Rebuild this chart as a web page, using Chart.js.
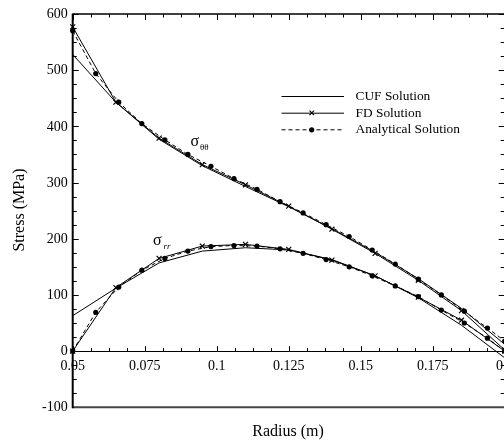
<!DOCTYPE html>
<html>
<head>
<meta charset="utf-8">
<script src="https://cdn.jsdelivr.net/npm/chart.js@4.4.1/dist/chart.umd.min.js"></script>
<style>
  html, body { margin: 0; padding: 0; background: #fff; overflow: hidden; width: 504px; height: 443px; }
  canvas { position: absolute; left: 0; top: 0; }
</style>
</head>
<body>
<canvas id="stressChart" width="540" height="443"></canvas>
<script>
// Nodos de CUF y FD (radio en m)
const radiusNodes = [0.05, 0.065, 0.08, 0.095, 0.11, 0.125, 0.14, 0.155, 0.17, 0.185, 0.2];
const cufTheta  = [528, 443, 377, 330, 293, 257, 218, 176, 129, 76, 12];
const cufRadial = [63, 112, 157, 178, 184, 180, 163, 134, 95, 46, -12];
const fdTheta   = [577, 443, 379, 332, 296, 258, 217, 174, 126, 72, 2];
const fdRadial  = [0, 113, 165, 187, 190, 181, 162, 134, 96, 55, 0];

// Solucion analitica
const radiusAnalytical = [0.05, 0.058, 0.066, 0.074, 0.082, 0.09, 0.098, 0.106, 0.114, 0.122,
                          0.13, 0.138, 0.146, 0.154, 0.162, 0.17, 0.178, 0.186, 0.194, 0.2];
const anaTheta  = [570, 494, 443, 405, 376, 350, 329, 307, 288, 266,
                   246, 225, 204, 180, 155, 128, 100, 71, 41, 18];
const anaRadial = [0, 69, 114, 144, 165, 178, 186, 188, 187, 182,
                   174, 163, 150, 134, 116, 97, 73, 50, 23, 0];

// Ejes
const xTicks = [0.05, 0.075, 0.1, 0.125, 0.15, 0.175, 0.2];
const xTickLabels = ["0.05", "0.075", "0.1", "0.125", "0.15", "0.175", "0.2"];
const yTicks = [600, 500, 400, 300, 200, 100, 0, -100];
const yTickLabels = ["600", "500", "400", "300", "200", "100", "0", "-100"];
const legendLabels = ["CUF Solution", "FD Solution", "Analytical Solution"];

const toPoints = (xs, ys) => xs.map((x, i) => ({ x: x, y: ys[i] }));

const serif = "'Liberation Serif', 'Times New Roman', serif";

const cufStyle = { borderColor: "#000", borderWidth: 1, pointRadius: 0, tension: 0, clip: false };
const fdStyle = {
    borderColor: "#000", borderWidth: 1, tension: 0, clip: false,
    pointStyle: "crossRot", pointRadius: 3.5, pointBorderWidth: 1.2, pointBorderColor: "#000"
};
const anaStyle = {
    borderColor: "#000", borderWidth: 1, borderDash: [4, 3], tension: 0, clip: false,
    pointStyle: "circle", pointRadius: 2.6, pointBorderWidth: 0,
    pointBackgroundColor: "#000"
};

// Marcos, ticks, textos y leyenda
const framePlugin = {
    id: "frame",
    afterDraw(chart) {
        const ctx = chart.ctx;
        const xs = chart.scales.x;
        const ys = chart.scales.y;
        const area = chart.chartArea;
        const y0 = ys.getPixelForValue(0);
        ctx.save();
        ctx.strokeStyle = "#000";

        // ticks horizontales (arriba y en y=0)
        ctx.lineWidth = 1;
        for (let i = 0; i <= 24; i++) {
            const v = 0.05 + i * 0.00625;
            const px = Math.round(xs.getPixelForValue(v)) + 0.5;
            const major = i % 4 === 0;
            ctx.beginPath();
            ctx.moveTo(px, area.top);
            ctx.lineTo(px, area.top + (major ? 6 : 3.5));
            ctx.moveTo(px, y0);
            ctx.lineTo(px, y0 - (major ? 5 : 3));
            ctx.stroke();
        }
        // ticks verticales (izquierda y derecha)
        for (let i = 0; i <= 28; i++) {
            const v = -100 + i * 25;
            const py = Math.round(ys.getPixelForValue(v)) + 0.5;
            const major = i % 4 === 0;
            ctx.beginPath();
            ctx.moveTo(area.left, py);
            ctx.lineTo(area.left + (major ? 6 : 4), py);
            ctx.moveTo(area.right, py);
            ctx.lineTo(area.right - (major ? 6 : 4), py);
            ctx.stroke();
        }

        // linea y=0
        ctx.beginPath();
        ctx.moveTo(area.left, Math.round(y0) + 0.5);
        ctx.lineTo(area.right, Math.round(y0) + 0.5);
        ctx.stroke();

        // borde superior
        ctx.lineWidth = 1.5;
        ctx.beginPath();
        ctx.moveTo(area.left, area.top);
        ctx.lineTo(area.right, area.top);
        ctx.stroke();

        // borde inferior gris
        ctx.strokeStyle = "#444";
        ctx.lineWidth = 2;
        ctx.beginPath();
        ctx.moveTo(area.left, area.bottom);
        ctx.lineTo(area.right, area.bottom);
        ctx.stroke();

        // eje izquierdo
        ctx.strokeStyle = "#000";
        ctx.lineWidth = 2;
        ctx.beginPath();
        ctx.moveTo(area.left, area.top - 0.5);
        ctx.lineTo(area.left, area.bottom + 1);
        ctx.stroke();

        // etiquetas
        ctx.fillStyle = "#000";
        ctx.font = "14px " + serif;
        ctx.textAlign = "right";
        ctx.textBaseline = "middle";
        yTicks.forEach((v, i) => {
            ctx.fillText(yTickLabels[i], area.left - 5, ys.getPixelForValue(v) + 0.5);
        });
        ctx.textAlign = "center";
        xTicks.forEach((v, i) => {
            ctx.fillText(xTickLabels[i], xs.getPixelForValue(v), y0 + 15.5);
        });

        // titulos
        ctx.font = "16px " + serif;
        ctx.fillText("Radius (m)", 288, 432);
        ctx.save();
        ctx.translate(20, 210);
        ctx.rotate(-Math.PI / 2);
        ctx.fillText("Stress (MPa)", 0, 0);
        ctx.restore();

        // sigma
        ctx.textAlign = "left";
        ctx.font = "16px " + serif;
        ctx.fillText("σ", 190.5, 142);
        ctx.font = "9px " + serif;
        ctx.fillText("θθ", 200, 148);
        ctx.font = "16px " + serif;
        ctx.fillText("σ", 153, 240.5);
        ctx.font = "italic 9px " + serif;
        ctx.fillText("rr", 163.5, 246.5);

        // leyenda
        const legendY = [96, 112.7, 129.3];
        ctx.font = "13.4px " + serif;
        legendLabels.forEach((label, i) => {
            const ly = legendY[i];
            ctx.lineWidth = 1;
            ctx.setLineDash(i === 2 ? [4, 3] : []);
            ctx.beginPath();
            ctx.moveTo(281.5, ly + 0.5);
            ctx.lineTo(344, ly + 0.5);
            ctx.stroke();
            ctx.setLineDash([]);
            if (i === 1) {
                ctx.lineWidth = 1.2;
                ctx.beginPath();
                ctx.moveTo(309.5, ly - 2);
                ctx.lineTo(314, ly + 2.5);
                ctx.moveTo(314, ly - 2);
                ctx.lineTo(309.5, ly + 2.5);
                ctx.stroke();
            }
            if (i === 2) {
                ctx.beginPath();
                ctx.arc(311.7, ly + 0.5, 2.6, 0, Math.PI * 2);
                ctx.fill();
            }
            ctx.fillText(label, 355.5, ly + 0.5);
        });

        ctx.restore();
    }
};

const ctx = document.getElementById("stressChart");
new Chart(ctx, {
    type: "line",
    data: {
        datasets: [
            Object.assign({ label: "CUF Solution", data: toPoints(radiusNodes, cufTheta) }, cufStyle),
            Object.assign({ label: "CUF Solution", data: toPoints(radiusNodes, cufRadial) }, cufStyle),
            Object.assign({ label: "FD Solution", data: toPoints(radiusNodes, fdTheta) }, fdStyle),
            Object.assign({ label: "FD Solution", data: toPoints(radiusNodes, fdRadial) }, fdStyle),
            Object.assign({ label: "Analytical Solution", data: toPoints(radiusAnalytical, anaTheta) }, anaStyle),
            Object.assign({ label: "Analytical Solution", data: toPoints(radiusAnalytical, anaRadial) }, anaStyle)
        ]
    },
    options: {
        responsive: false,
        animation: false,
        layout: { padding: { left: 72.7, top: 14, right: 35.3, bottom: 35.7 } },
        plugins: {
            legend: { display: false },
            tooltip: { enabled: false }
        },
        scales: {
            x: { type: "linear", min: 0.05, max: 0.2, display: false },
            y: { type: "linear", min: -100, max: 600, display: false }
        }
    },
    plugins: [framePlugin]
});
</script>
</body>
</html>
